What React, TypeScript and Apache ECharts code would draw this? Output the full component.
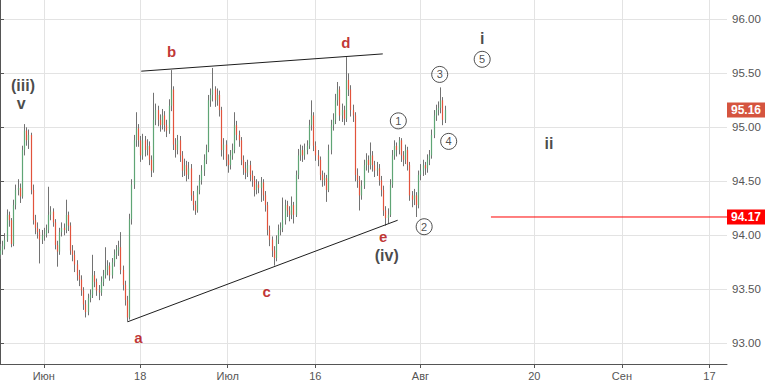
import React, { useEffect, useRef } from "react";
import * as echarts from "echarts";

// ---- data ----
const SLOT_COUNT = 333; // 4 slots per trading day, end of axis ~ Sep 19
const tickSlots = [20, 64, 104, 144, 192, 244, 284, 324];
const tickLabels = ["Июн", "18", "Июл", "16", "Авг", "20", "Сен", "17"];

// [open, close, low, high]
const candles: number[][] = [
  [93.82, 93.86, 93.78, 93.92], [93.86, 93.9, 93.82, 93.95], [93.9, 93.96, 93.87, 94.02], [93.96, 94.19, 93.94, 94.24],
  [94.19, 94.14, 94.08, 94.22], [94.14, 93.92, 93.89, 94.16], [93.92, 94.28, 93.9, 94.33], [94.28, 94.42, 94.24, 94.47],
  [94.42, 94.44, 94.37, 94.52], [94.44, 94.36, 94.3, 94.48], [94.36, 94.79, 94.34, 94.83], [94.79, 94.97, 94.74, 95.03],
  [94.97, 94.88, 94.83, 95.0], [94.88, 94.93, 94.8, 94.98], [94.93, 94.42, 94.38, 94.95], [94.42, 94.14, 94.1, 94.47],
  [94.14, 94.07, 94.01, 94.19], [94.07, 94.03, 93.97, 94.12], [94.03, 93.96, 93.74, 94.06], [93.96, 94.0, 93.92, 94.05],
  [94.0, 94.01, 93.95, 94.07], [94.01, 94.05, 93.98, 94.1], [94.05, 94.19, 94.02, 94.45], [94.19, 94.22, 94.14, 94.27],
  [94.22, 94.12, 94.08, 94.25], [94.12, 93.91, 93.87, 94.15], [93.91, 93.85, 93.71, 93.95], [93.85, 94.03, 93.82, 94.07],
  [94.03, 94.07, 93.99, 94.12], [94.07, 94.05, 94.0, 94.11], [94.05, 94.19, 94.02, 94.33], [94.19, 94.09, 94.04, 94.22],
  [94.09, 93.86, 93.82, 94.12], [93.86, 93.82, 93.76, 93.91], [93.82, 93.73, 93.66, 93.86], [93.73, 93.63, 93.58, 93.77],
  [93.63, 93.59, 93.53, 93.68], [93.59, 93.49, 93.44, 93.63], [93.49, 93.36, 93.31, 93.52], [93.36, 93.29, 93.24, 93.4],
  [93.29, 93.42, 93.26, 93.46], [93.42, 93.45, 93.38, 93.5], [93.45, 93.63, 93.42, 93.82], [93.63, 93.57, 93.52, 93.67],
  [93.57, 93.49, 93.44, 93.6], [93.49, 93.47, 93.4, 93.54], [93.47, 93.57, 93.44, 93.62], [93.57, 93.63, 93.53, 93.68],
  [93.63, 93.68, 93.6, 93.89], [93.68, 93.72, 93.63, 93.77], [93.72, 93.63, 93.58, 93.75], [93.63, 93.75, 93.6, 93.79],
  [93.75, 93.82, 93.71, 93.87], [93.82, 93.86, 93.78, 93.91], [93.86, 93.89, 93.81, 93.95], [93.89, 93.68, 93.64, 94.03],
  [93.68, 93.54, 93.49, 93.72], [93.54, 93.4, 93.35, 93.58], [93.4, 93.24, 93.2, 93.44], [93.24, 94.15, 93.22, 94.2],
  [94.15, 94.47, 94.1, 94.52], [94.47, 94.88, 94.43, 94.93], [94.88, 94.99, 94.82, 95.14], [94.99, 94.88, 94.82, 95.03],
  [94.88, 94.74, 94.68, 94.92], [94.74, 94.88, 94.7, 94.94], [94.88, 94.79, 94.73, 94.92], [94.79, 94.83, 94.74, 94.89],
  [94.83, 94.7, 94.65, 94.87], [94.7, 94.6, 94.54, 94.74], [94.6, 95.07, 94.58, 95.32], [95.07, 95.16, 95.02, 95.22],
  [95.16, 95.07, 95.01, 95.2], [95.07, 95.02, 94.96, 95.12], [95.02, 95.11, 94.98, 95.17], [95.11, 95.02, 94.96, 95.15],
  [95.02, 94.97, 94.91, 95.07], [94.97, 95.2, 94.94, 95.26], [95.2, 95.35, 95.15, 95.53], [95.35, 94.84, 94.79, 95.38],
  [94.84, 94.79, 94.72, 94.9], [94.79, 94.88, 94.75, 94.93], [94.88, 94.74, 94.68, 94.92], [94.74, 94.6, 94.54, 94.78],
  [94.6, 94.65, 94.55, 94.71], [94.65, 94.56, 94.5, 94.69], [94.56, 94.62, 94.52, 94.68], [94.62, 94.37, 94.32, 94.66],
  [94.37, 94.28, 94.23, 94.41], [94.28, 94.23, 94.19, 94.32], [94.23, 94.42, 94.21, 94.46], [94.42, 94.51, 94.38, 94.56],
  [94.51, 94.6, 94.47, 94.65], [94.6, 94.7, 94.55, 94.75], [94.7, 94.79, 94.66, 94.84], [94.79, 95.25, 94.77, 95.3],
  [95.25, 95.3, 95.19, 95.36], [95.3, 95.35, 95.24, 95.55], [95.35, 95.25, 95.19, 95.38], [95.25, 95.3, 95.2, 95.36],
  [95.3, 95.16, 95.1, 95.34], [95.16, 94.79, 94.73, 95.19], [94.79, 94.84, 94.7, 94.9], [94.84, 94.7, 94.64, 94.88],
  [94.7, 94.65, 94.58, 94.75], [94.65, 94.74, 94.61, 94.79], [94.74, 94.79, 94.7, 94.85], [94.79, 95.02, 94.76, 95.14],
  [95.02, 94.93, 94.88, 95.06], [94.93, 94.88, 94.82, 94.97], [94.88, 94.7, 94.65, 94.91], [94.7, 94.62, 94.56, 94.74],
  [94.62, 94.58, 94.52, 94.68], [94.58, 94.65, 94.54, 94.7], [94.65, 94.56, 94.5, 94.69], [94.56, 94.51, 94.45, 94.6],
  [94.51, 94.42, 94.36, 94.55], [94.42, 94.47, 94.38, 94.52], [94.47, 94.44, 94.39, 94.5], [94.44, 94.49, 94.31, 94.54],
  [94.49, 94.37, 94.32, 94.52], [94.37, 94.28, 94.22, 94.41], [94.28, 94.05, 94.0, 94.31], [94.05, 93.96, 93.9, 94.09],
  [93.96, 93.86, 93.8, 93.99], [93.86, 93.79, 93.72, 93.9], [93.79, 93.96, 93.76, 94.0], [93.96, 94.05, 93.92, 94.1],
  [94.05, 94.07, 94.0, 94.12], [94.07, 94.14, 94.03, 94.35], [94.14, 94.28, 94.1, 94.33], [94.28, 94.23, 94.17, 94.32],
  [94.23, 94.19, 94.13, 94.27], [94.19, 94.28, 94.15, 94.36], [94.28, 94.19, 94.11, 94.31], [94.19, 94.56, 94.17, 94.6],
  [94.56, 94.74, 94.52, 94.8], [94.74, 94.79, 94.69, 94.84], [94.79, 94.74, 94.68, 94.83], [94.74, 94.79, 94.7, 94.85],
  [94.79, 94.83, 94.75, 94.88], [94.83, 95.02, 94.8, 95.07], [95.02, 95.11, 94.97, 95.25], [95.11, 94.83, 94.78, 95.14],
  [94.83, 94.74, 94.69, 94.87], [94.74, 94.7, 94.64, 94.79], [94.7, 94.56, 94.51, 94.73], [94.56, 94.51, 94.45, 94.6],
  [94.51, 94.53, 94.46, 94.58], [94.53, 94.42, 94.31, 94.56], [94.42, 94.79, 94.4, 94.84], [94.79, 95.02, 94.75, 95.07],
  [95.02, 95.07, 94.97, 95.13], [95.07, 95.25, 95.03, 95.31], [95.25, 95.35, 95.2, 95.42], [95.35, 95.11, 95.06, 95.38],
  [95.11, 95.16, 95.05, 95.22], [95.16, 95.08, 95.02, 95.2], [95.08, 95.44, 95.05, 95.65], [95.44, 95.35, 95.29, 95.5],
  [95.35, 95.16, 95.1, 95.39], [95.16, 95.11, 95.05, 95.21], [95.11, 94.56, 94.5, 95.14], [94.56, 94.51, 94.44, 94.62],
  [94.51, 94.37, 94.23, 94.55], [94.37, 94.46, 94.33, 94.51], [94.46, 94.65, 94.43, 94.7], [94.65, 94.7, 94.6, 94.76],
  [94.7, 94.65, 94.58, 94.74], [94.65, 94.74, 94.61, 94.86], [94.74, 94.65, 94.59, 94.78], [94.65, 94.6, 94.54, 94.69],
  [94.6, 94.62, 94.55, 94.68], [94.62, 94.51, 94.46, 94.66], [94.51, 94.42, 94.36, 94.55], [94.42, 94.23, 94.18, 94.46],
  [94.23, 94.16, 94.09, 94.27], [94.16, 94.19, 94.11, 94.25], [94.19, 94.47, 94.17, 94.52], [94.47, 94.74, 94.44, 94.79],
  [94.74, 94.83, 94.7, 94.88], [94.83, 94.79, 94.73, 94.86], [94.79, 94.88, 94.75, 94.91], [94.88, 94.74, 94.68, 94.9],
  [94.74, 94.7, 94.64, 94.78], [94.7, 94.79, 94.66, 94.84], [94.79, 94.65, 94.6, 94.82], [94.65, 94.37, 94.32, 94.68],
  [94.37, 94.33, 94.26, 94.41], [94.33, 94.37, 94.28, 94.43], [94.37, 94.28, 94.17, 94.4], [94.28, 94.56, 94.25, 94.6],
  [94.56, 94.6, 94.51, 94.66], [94.6, 94.65, 94.55, 94.7], [94.65, 94.62, 94.56, 94.68], [94.62, 94.7, 94.58, 94.75],
  [94.7, 94.74, 94.65, 94.79], [94.74, 94.93, 94.71, 94.98], [94.93, 95.11, 94.9, 95.16], [95.11, 95.16, 95.06, 95.21],
  [95.16, 95.18, 95.11, 95.24], [95.18, 95.25, 95.13, 95.37], [95.25, 95.07, 95.02, 95.28], [95.07, 95.16, 95.04, 95.2],
];

const lastPrice = 95.16;
const levelPrice = 94.17;
const levelStartSlot = 224.2;

const upperTrend = [[64.5, 95.52], [174.8, 95.68]];
const lowerTrend = [[58.3, 93.2], [181.6, 94.14]];

const letterNames = ["a", "b", "c", "d", "e"];
const letterX = [63.2, 78.4, 121.8, 157.9, 175.0];
const letterY = [93.05, 95.7, 93.48, 95.79, 93.99];

const waveNames = ["(iii)", "v", "(iv)", "i", "ii"];
const waveX = [10.5, 9.7, 176.6, 220.2, 250.7];
const waveY = [95.39, 95.22, 93.81, 95.82, 94.85];

const circleNames = ["1", "2", "3", "4", "5"];
const circleX = [181.9, 193.7, 200.8, 204.9, 220.2];
const circleY = [95.06, 94.08, 95.49, 94.87, 95.63];

// ---- styles ----
const FONT = "'Liberation Sans', Arial, sans-serif";
const UP = "#5fa575";
const DOWN = "#e2533c";
const WICK = "#727272";
const GRID = "#e3e3e3";
const AXIS = "#555555";

export default function App() {
  const ref = useRef<HTMLDivElement>(null);

  useEffect(() => {
    if (!ref.current) return;
    const chart = echarts.init(ref.current, undefined, { renderer: "svg" });

    const categories = Array.from({ length: SLOT_COUNT }, (_, i) => String(i));
    const labelBySlot: Record<number, string> = {};
    tickSlots.forEach((s, k) => (labelBySlot[s] = tickLabels[k]));
    const isTick = (i: number) => labelBySlot[i] !== undefined;

    const candleData = candles.map((d, i) => [i, d[0], d[1], d[2], d[3]]);

    const tagLabel = (bg: string, text: string) => ({
      show: true,
      distance: 0,
      formatter: text,
      backgroundColor: bg,
      color: "#ffffff",
      fontWeight: "bold",
      fontSize: 12,
      fontFamily: FONT,
      align: "left",
      verticalAlign: "middle",
      padding: [2, 4, 1, 4],
    });

    chart.setOption({
      animation: false,
      grid: { left: 0, right: 38, top: 0, bottom: 20, containLabel: false },
      xAxis: [
        {
          type: "category",
          data: categories,
          boundaryGap: false,
          axisLine: { show: true, lineStyle: { color: AXIS, width: 1 } },
          axisTick: { show: true, length: 4, interval: (i: number) => isTick(i), lineStyle: { color: AXIS } },
          axisLabel: {
            interval: (i: number) => isTick(i),
            formatter: (v: string) => labelBySlot[Number(v)] ?? "",
            color: AXIS,
            fontSize: 11,
            fontFamily: FONT,
            margin: 6,
          },
          splitLine: { show: true, interval: (i: number) => isTick(i), lineStyle: { color: GRID, width: 1 } },
        },
        { type: "value", min: 0, max: SLOT_COUNT - 1, show: false },
      ],
      yAxis: {
        type: "value",
        position: "right",
        min: 92.809,
        max: 96.179,
        splitNumber: 5,
        axisLine: { show: true, lineStyle: { color: AXIS, width: 1 } },
        axisTick: { show: true, length: 4, lineStyle: { color: AXIS } },
        axisLabel: {
          color: AXIS,
          fontSize: 11.5,
          fontFamily: FONT,
          margin: 5,
          showMinLabel: false,
          showMaxLabel: false,
          formatter: (v: number) => v.toFixed(2),
        },
        splitLine: { show: true, showMinLine: false, showMaxLine: false, lineStyle: { color: GRID, width: 1 } },
      },
      series: [
        {
          type: "custom",
          xAxisIndex: 0,
          data: candleData,
          encode: { x: 0, y: [1, 2, 3, 4] },
          silent: true,
          renderItem: (_params: any, api: any) => {
            const idx = api.value(0);
            const o = api.value(1);
            const c = api.value(2);
            const l = api.value(3);
            const h = api.value(4);
            const pO = api.coord([idx, o]);
            const pC = api.coord([idx, c]);
            const pL = api.coord([idx, l]);
            const pH = api.coord([idx, h]);
            const x = Math.round(pO[0]) + 0.5;
            const top = Math.min(pO[1], pC[1]);
            const hgt = Math.max(1, Math.abs(pO[1] - pC[1]));
            return {
              type: "group",
              children: [
                { type: "line", shape: { x1: x, y1: pH[1], x2: x, y2: pL[1] }, style: { stroke: WICK, lineWidth: 1 } },
                { type: "rect", shape: { x: x - 0.6, y: top, width: 1.2, height: hgt }, style: { fill: c >= o ? UP : DOWN } },
              ],
            };
          },
          z: 2,
        },
        {
          type: "line",
          xAxisIndex: 1,
          data: upperTrend,
          symbol: "none",
          silent: true,
          lineStyle: { color: "#1e1e1e", width: 1 },
          z: 3,
        },
        {
          type: "line",
          xAxisIndex: 1,
          data: lowerTrend,
          symbol: "none",
          silent: true,
          lineStyle: { color: "#1e1e1e", width: 1 },
          z: 3,
        },
        {
          type: "line",
          xAxisIndex: 1,
          data: [
            [levelStartSlot, levelPrice],
            [SLOT_COUNT - 1, levelPrice],
          ],
          symbol: "none",
          silent: true,
          lineStyle: { color: "#ff0000", width: 1 },
          endLabel: tagLabel("#ff0000", levelPrice.toFixed(2)),
          z: 6,
        },
        {
          type: "line",
          xAxisIndex: 1,
          data: [
            [SLOT_COUNT - 1.5, lastPrice],
            [SLOT_COUNT - 1, lastPrice],
          ],
          symbol: "none",
          silent: true,
          lineStyle: { color: "rgba(0,0,0,0)", width: 0 },
          endLabel: tagLabel("#d5543f", lastPrice.toFixed(2)),
          z: 6,
        },
        {
          type: "scatter",
          xAxisIndex: 1,
          silent: true,
          symbolSize: 1,
          itemStyle: { color: "rgba(0,0,0,0)" },
          data: letterNames.map((n, k) => ({ name: n, value: [letterX[k], letterY[k]] })),
          label: {
            show: true,
            position: "inside",
            formatter: (p: any) => p.name,
            color: "#b00000",
            fontSize: 15,
            fontWeight: "bold",
            fontFamily: FONT,
          },
          z: 5,
        },
        {
          type: "scatter",
          xAxisIndex: 1,
          silent: true,
          symbolSize: 1,
          itemStyle: { color: "rgba(0,0,0,0)" },
          data: waveNames.map((n, k) => ({ name: n, value: [waveX[k], waveY[k]] })),
          label: {
            show: true,
            position: "inside",
            formatter: (p: any) => p.name,
            color: "#1a1a1a",
            fontSize: 16,
            fontWeight: "bold",
            fontFamily: FONT,
          },
          z: 5,
        },
        {
          type: "scatter",
          xAxisIndex: 1,
          silent: true,
          symbol: "circle",
          symbolSize: 16,
          itemStyle: { color: "rgba(255,255,255,0)", borderColor: "#222222", borderWidth: 1 },
          data: circleNames.map((n, k) => ({ name: n, value: [circleX[k], circleY[k]] })),
          label: {
            show: true,
            position: "inside",
            formatter: (p: any) => p.name,
            color: "#222222",
            fontSize: 11,
            fontFamily: FONT,
          },
          z: 5,
        },
      ],
    });

    return () => {
      chart.dispose();
    };
  }, []);

  return (
    <div
      ref={ref}
      style={{ position: "absolute", left: 0, top: 0, width: 765, height: 384, background: "#ffffff" }}
    />
  );
}
